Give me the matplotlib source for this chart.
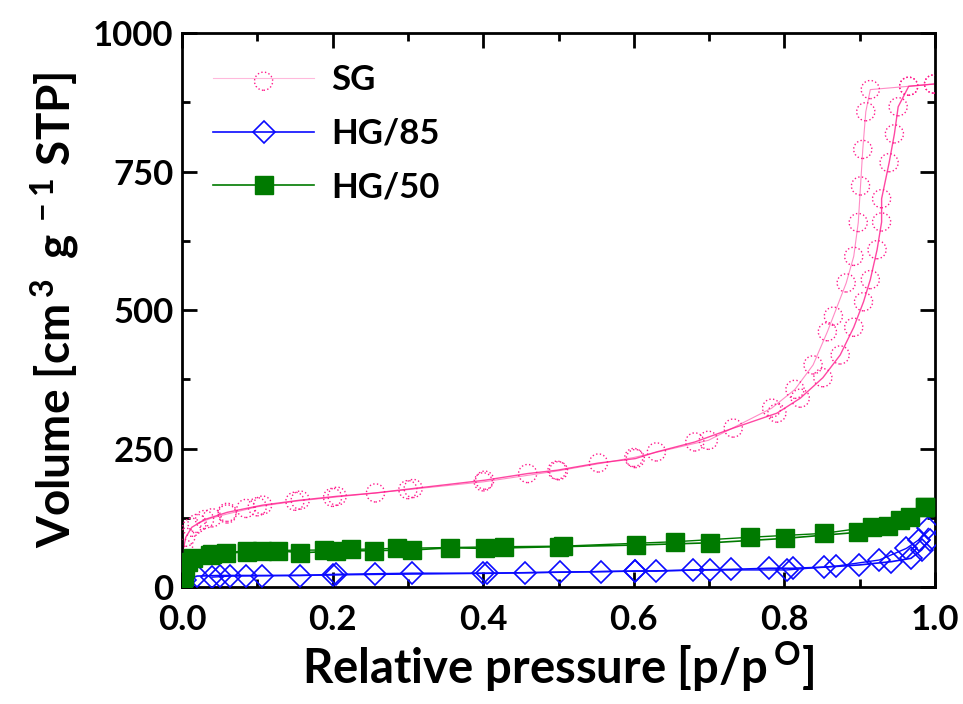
import matplotlib
matplotlib.use('Agg')
import matplotlib.pyplot as plt
from matplotlib.ticker import MultipleLocator

plt.rcParams['font.family'] = ['Lato', 'DejaVu Sans']
plt.rcParams['font.weight'] = 'bold'
plt.rcParams['mathtext.fontset'] = 'custom'
plt.rcParams['mathtext.rm'] = 'Lato:bold'
plt.rcParams['mathtext.default'] = 'rm'

# SG isotherm (adsorption / desorption)
sg_ads_p = [0.002, 0.005, 0.013, 0.03, 0.06, 0.085, 0.107, 0.157, 0.206, 0.257, 0.307,
            0.402, 0.459, 0.498, 0.553, 0.602, 0.630, 0.681, 0.732, 0.790, 0.821,
            0.851, 0.874, 0.892, 0.905, 0.914, 0.923, 0.929, 0.929, 0.939, 0.946,
            0.951, 0.965, 0.998]
sg_ads_v = [70, 90, 108, 122, 135, 142, 148, 157, 164, 170, 178,
            193, 205, 211, 224, 232, 244, 262, 287, 314, 341,
            378, 419, 469, 515, 555, 609, 659, 701, 766, 818,
            867, 904, 908]
sg_des_p = [0.998, 0.965, 0.914, 0.908, 0.904, 0.901, 0.898, 0.892, 0.882, 0.865,
            0.857, 0.838, 0.814, 0.783, 0.699, 0.60, 0.50, 0.40, 0.30, 0.20,
            0.15, 0.10, 0.06, 0.04, 0.02]
sg_des_v = [908, 904, 898, 858, 790, 724, 658, 597, 549, 489,
            461, 401, 357, 323, 265, 234, 210, 190, 176, 162,
            155, 145, 132, 125, 115]

# HG/85
hg85_ads_p = [0.001, 0.004, 0.02, 0.05, 0.085, 0.106, 0.157, 0.205, 0.256, 0.306,
              0.405, 0.456, 0.502, 0.556, 0.602, 0.63, 0.679, 0.729, 0.779, 0.811,
              0.852, 0.899, 0.942, 0.968, 0.982, 0.993]
hg85_ads_v = [4, 12, 20, 21, 21, 21, 21, 23, 24, 25,
              25, 26, 27, 28, 29, 29, 31, 32, 34, 34,
              36, 40, 46, 52, 67, 85]
hg85_des_p = [0.991, 0.978, 0.962, 0.926, 0.869, 0.803, 0.701, 0.602, 0.40, 0.20,
              0.064, 0.04]
hg85_des_v = [106, 85, 70, 49, 38, 31, 31, 29, 25, 22, 20, 18]

# HG/50
hg50_ads_p = [0.001, 0.002, 0.004, 0.008, 0.015, 0.037, 0.059, 0.086, 0.106, 0.128,
              0.157, 0.205, 0.255, 0.305, 0.356, 0.402, 0.5, 0.603, 0.701, 0.801,
              0.898, 0.938, 0.967, 0.987]
hg50_ads_v = [5, 20, 35, 45, 52, 58, 61, 64, 66, 66,
              62, 65, 66, 67, 71, 70, 73, 76, 80, 88,
              99, 110, 127, 144]
hg50_des_p = [0.987, 0.954, 0.916, 0.852, 0.754, 0.655, 0.506, 0.427, 0.285, 0.225,
              0.188, 0.086, 0.04]
hg50_des_v = [144, 122, 109, 97, 90, 82, 74, 73, 70, 68,
              67, 66, 59]

pink = '#ff1a8c'
blue = '#0a0aff'
green = '#007a00'

fig = plt.figure(figsize=(9.63, 7.04), dpi=100)
ax = fig.add_axes([0.189, 0.166, 0.782, 0.787])

# SG: thin line, dotted hollow circles
ax.plot(sg_ads_p, sg_ads_v, color=pink, lw=1.0, alpha=0.8, zorder=2)
ax.plot(sg_des_p, sg_des_v, color=pink, lw=0.8, alpha=0.5, zorder=2)
sg_sc = ax.scatter(sg_ads_p + sg_des_p, sg_ads_v + sg_des_v, s=170, facecolors='none',
                   edgecolors=pink, linewidths=1.0, linestyle=':', zorder=3)

l85, = ax.plot(hg85_ads_p, hg85_ads_v, color=blue, lw=1.2, marker='D', ms=11,
               mfc='none', mec=blue, mew=1.2, zorder=4)
ax.plot(hg85_des_p, hg85_des_v, color=blue, lw=1.0, marker='D', ms=11,
        mfc='none', mec=blue, mew=1.2, zorder=4)

l50, = ax.plot(hg50_ads_p, hg50_ads_v, color=green, lw=1.2, marker='s', ms=12.5,
               mfc=green, mec=green, zorder=5)
ax.plot(hg50_des_p, hg50_des_v, color=green, lw=1.0, marker='s', ms=12.5,
        mfc=green, mec=green, zorder=5)

ax.set_xlim(0, 1.0)
ax.set_ylim(0, 1000)
ax.xaxis.set_major_locator(MultipleLocator(0.2))
ax.xaxis.set_minor_locator(MultipleLocator(0.1))
ax.yaxis.set_major_locator(MultipleLocator(250))
ax.yaxis.set_minor_locator(MultipleLocator(125))
ax.xaxis.set_major_formatter(plt.FormatStrFormatter('%.1f'))
ax.tick_params(which='both', direction='in', top=True, right=True, width=2)
ax.tick_params(which='major', length=11, labelsize=25)
ax.tick_params(axis='x', which='major', pad=12)
ax.tick_params(axis='y', which='major', pad=6)
ax.tick_params(which='minor', length=6)
for sp in ax.spines.values():
    sp.set_linewidth(2)

ax.set_xlabel(r'Relative pressure [p/p$^{\,\mathrm{O}}$]', fontsize=34, fontweight='bold',
              labelpad=2)
ax.set_ylabel(r'Volume [cm$^{\,3}$ $\,$g$^{\,-1}$ STP]', fontsize=33, fontweight='bold',
              labelpad=8)

sg_line = plt.Line2D([], [], color=pink, lw=0.8, alpha=0.3)
leg = ax.legend([(sg_line, sg_sc), l85, l50], ['SG', 'HG/85', 'HG/50'],
                loc='upper left', frameon=False, fontsize=25, handlelength=2.9,
                scatterpoints=1, borderaxespad=0.5, labelspacing=0.62,
                handletextpad=0.5, bbox_to_anchor=(0.0, 1.0))

fig.savefig('out.png', dpi=100)
